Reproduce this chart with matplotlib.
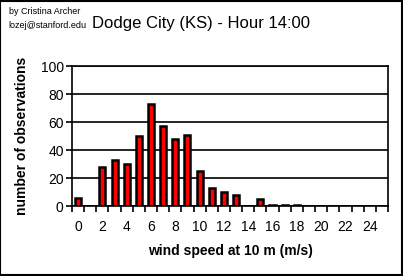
import matplotlib
matplotlib.use("Agg")
import matplotlib.pyplot as plt
from matplotlib.patches import Rectangle

plt.rcParams['font.family'] = ['Liberation Sans', 'DejaVu Sans']

# wind speed bins (m/s) and counts
speeds = list(range(26))
counts = [6, 0, 28, 33, 30, 50, 73, 57, 48, 51, 25, 13, 10, 8, 0, 5, 1, 1, 1,
          0, 0, 0, 0, 0, 0, 0]
tick_labels = [str(s) for s in range(0, 25, 2)]
y_ticks = [0, 20, 40, 60, 80, 100]

fig = plt.figure(figsize=(4.03, 2.76), dpi=100)
ax = fig.add_axes([0.1787, 0.2536, 0.784, 0.5072])

ax.bar(speeds, counts, width=0.5, color='red', edgecolor='black', linewidth=1.8, zorder=3)

ax.set_xlim(-0.5, 25.5)
ax.set_ylim(0, 100)
ax.set_yticks(y_ticks)
ax.yaxis.grid(True, color='black', linewidth=1.2)
ax.set_axisbelow(True)

ax.set_xticks(range(0, 25, 2))
ax.set_xticklabels(tick_labels)
ax.set_xticks([s - 0.5 for s in range(27)], minor=True)
ax.tick_params(axis='x', which='major', length=0, labelsize=10, pad=10)
ax.tick_params(axis='x', which='minor', length=4, width=1.2, direction='out')
ax.tick_params(axis='y', length=4, width=1.2, labelsize=10, pad=2)

for sp in ax.spines.values():
    sp.set_linewidth(1.2)

ax.set_xlabel('wind speed at 10 m (m/s)', fontsize=10, fontweight='bold', labelpad=7)
ax.set_ylabel('number of observations', fontsize=10, fontweight='bold', labelpad=8)

fig.text(0.5, 0.915, 'Dodge City (KS) - Hour 14:00', fontsize=12, ha='center', va='center')
fig.text(0.022, 0.958, 'by Cristina Archer', fontsize=6.5, ha='left', va='center')
fig.text(0.022, 0.908, 'lozej@stanford.edu', fontsize=6.5, ha='left', va='center')

fig.patches.append(Rectangle((0.001, 0.002), 0.997, 0.995, transform=fig.transFigure,
                             fill=False, edgecolor='black', linewidth=1.5))

fig.savefig('out.png', dpi=100)
